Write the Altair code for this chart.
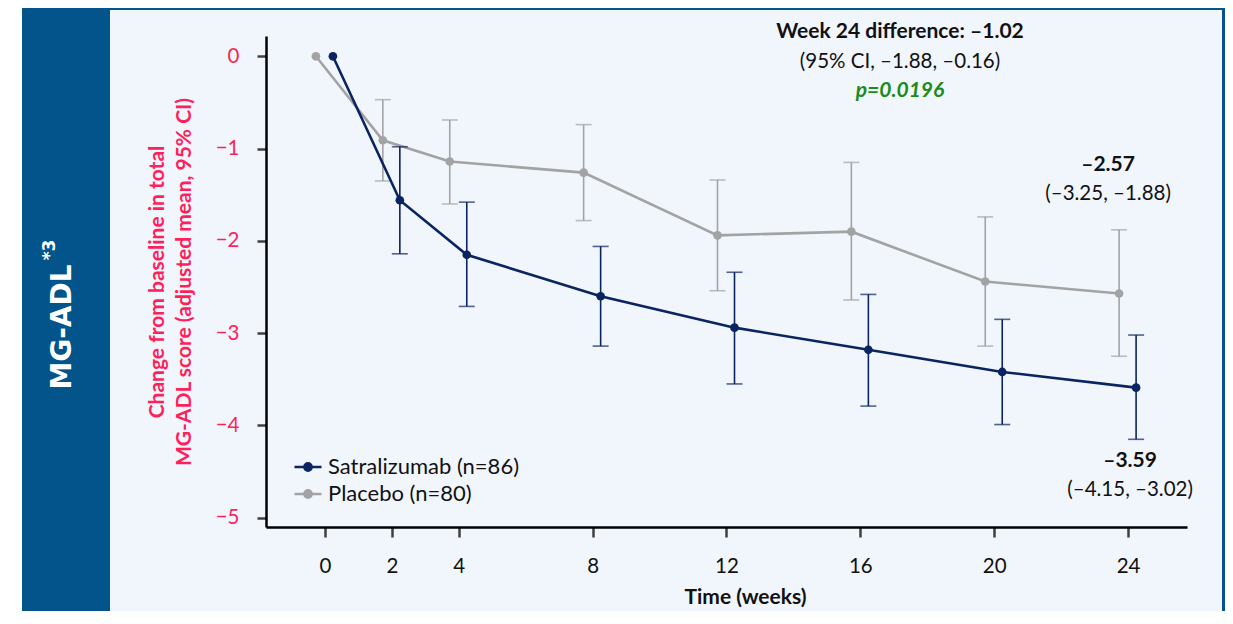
import altair as alt
import pandas as pd

weeks = [0, 2, 4, 8, 12, 16, 20, 24]
series_names = ["Satralizumab (n=86)", "Placebo (n=80)"]
satra_mean = [0, -1.56, -2.15, -2.60, -2.94, -3.18, -3.42, -3.59]
satra_lower = [None, -2.14, -2.71, -3.14, -3.55, -3.79, -3.99, -4.15]
satra_upper = [None, -0.98, -1.58, -2.06, -2.34, -2.58, -2.85, -3.02]
placebo_mean = [0, -0.91, -1.14, -1.26, -1.94, -1.90, -2.44, -2.57]
placebo_lower = [None, -1.35, -1.60, -1.78, -2.54, -2.64, -3.14, -3.25]
placebo_upper = [None, -0.47, -0.69, -0.74, -1.34, -1.15, -1.74, -1.88]

x_ticks = [0, 2, 4, 8, 12, 16, 20, 24]
y_ticks = [-5, -4, -3, -2, -1, 0]

ann_text = ["–2.57", "(–3.25, –1.88)", "–3.59", "(–4.15, –3.02)"]
ann_week = [24, 24, 24, 24]
ann_value = [-1.88, -1.88, -4.15, -4.15]

NAVY = "#0a2361"
GRAY = "#a3a3a3"
PINK = "#ff1f5a"
PANEL = "#02548a"
LIGHT = "#f1f6fd"
FONT = "Lato"
FS = 20.5
FSB = 21

rows = []
for name, m, lo, up in [(series_names[0], satra_mean, satra_lower, satra_upper),
                        (series_names[1], placebo_mean, placebo_lower, placebo_upper)]:
    for w, a, b, c in zip(weeks, m, lo, up):
        rows.append({"series": name, "week": w, "mean": a, "lower": b, "upper": c})
df = pd.DataFrame(rows)
err = df.dropna(subset=["lower"])

xscale = alt.Scale(domain=[-1.76, 25.76], nice=False, zero=False)
yscale = alt.Scale(domain=[-5.1, 0.22], nice=False, zero=False)
xaxis = alt.Axis(values=x_ticks, title="Time (weeks)", grid=False, domainColor="black",
                 domainWidth=2.5, tickColor="#404040", tickWidth=2.5, tickSize=10,
                 labelFont=FONT, labelFontSize=FS, labelColor="#111111", labelPadding=19,
                 titleFont=FONT, titleFontSize=FSB, titleFontWeight="bold", titleColor="#111111",
                 titlePadding=10, titleX=479, zindex=2)
yaxis = alt.Axis(values=y_ticks, title=["Change from baseline in total", "MG-ADL score (adjusted mean, 95% CI)"],
                 grid=False, domainColor="black", domainWidth=2.5, tickColor="#404040",
                 tickWidth=2.5, tickSize=9, labelFont=FONT, labelFontSize=FS, labelColor=PINK,
                 labelPadding=18, titleFont=FONT, titleFontSize=FSB, titleFontWeight="bold",
                 titleColor=PINK, titlePadding=21, titleLineHeight=27, zindex=2)
colscale = alt.Scale(domain=series_names, range=[NAVY, GRAY])
legend = alt.Legend(title=None, orient="none", legendX=27, legendY=416, padding=0,
                    symbolType="M-1,0L1,0M-0.27,0A0.27,0.27,0,1,0,0.27,0A0.27,0.27,0,1,0,-0.27,0Z",
                    symbolSize=729, symbolStrokeWidth=2.5, symbolOpacity=1, labelLimit=400,
                    labelFont=FONT, labelFontSize=22,
                    labelColor="#111111", labelOffset=5, rowPadding=1, zindex=3)

one = pd.DataFrame({"k": [0]})
bg = alt.Chart(one).mark_rect(color=LIGHT).encode(
    x=alt.value(-156), x2=alt.value(959), y=alt.value(-28), y2=alt.value(610))
panel = alt.Chart(one).mark_rect(color=PANEL).encode(
    x=alt.value(-244), x2=alt.value(-156), y=alt.value(-28), y2=alt.value(610))
topb = alt.Chart(one).mark_rect(color=PANEL).encode(
    x=alt.value(-244), x2=alt.value(959), y=alt.value(-28), y2=alt.value(-26))
rightb = alt.Chart(one).mark_rect(color=PANEL).encode(
    x=alt.value(956), x2=alt.value(959), y=alt.value(-28), y2=alt.value(610))
ptitle = alt.Chart(one).mark_text(text="MG-ADL", angle=270, font="DejaVu Sans", fontSize=28,
                                  fontWeight="bold", color="white", align="center", baseline="middle").encode(
    x=alt.value(-203), y=alt.value(291))
psup = alt.Chart(one).mark_text(text="*3", angle=270, font="DejaVu Sans", fontSize=17,
                                fontWeight="bold", color="white", align="center", baseline="middle").encode(
    x=alt.value(-216), y=alt.value(214))

layers = [bg, panel, topb, rightb, ptitle, psup]

for name, off in [(series_names[1], -9), (series_names[0], 8)]:
    d = df[df.series == name]
    e = err[err.series == name]
    X = alt.X("week:Q", scale=xscale, axis=xaxis)
    C = alt.Color("series:N", scale=colscale, legend=legend)
    layers.append(alt.Chart(e).mark_rule(strokeWidth=1.6, xOffset=off).encode(
        x=X, y=alt.Y("lower:Q", scale=yscale, axis=yaxis), y2="upper:Q", color=C))
    for fld in ["lower", "upper"]:
        layers.append(alt.Chart(e).mark_tick(orient="horizontal", size=16, thickness=1.6, xOffset=off).encode(
            x=X, y=alt.Y(f"{fld}:Q", scale=yscale, axis=yaxis), color=C))
    layers.append(alt.Chart(d).mark_line(strokeWidth=2.6, xOffset=off).encode(
        x=X, y=alt.Y("mean:Q", scale=yscale, axis=yaxis), color=C))
    layers.append(alt.Chart(d).mark_point(filled=True, size=75, opacity=1, shape="circle",
                                          xOffset=off).encode(
        x=X, y=alt.Y("mean:Q", scale=yscale, axis=yaxis), color=C))

h1 = alt.Chart(one).mark_text(text="Week 24 difference: –1.02", font=FONT, fontSize=FSB, fontWeight="bold",
                              color="#111111", align="center", baseline="middle").encode(
    x=alt.value(634), y=alt.value(-4))
h2 = alt.Chart(one).mark_text(text="(95% CI, –1.88, –0.16)", font=FONT, fontSize=FS,
                              color="#111111", align="center", baseline="middle").encode(
    x=alt.value(634), y=alt.value(26))
h3 = alt.Chart(one).mark_text(text="p=0.0196", font=FONT, fontSize=FSB, fontWeight="bold", fontStyle="italic",
                              color="#1a8c1a", align="center", baseline="middle").encode(
    x=alt.value(634), y=alt.value(55))
layers += [h1, h2, h3]

ann = pd.DataFrame({"text": ann_text, "week": ann_week, "value": ann_value})
dys = [-65, -36, 22, 51]
dxs = [-20, -20, 2, 2]
for i in range(4):
    a = ann.iloc[[i]]
    layers.append(alt.Chart(a).mark_text(font=FONT, fontSize=FSB if i % 2 == 0 else FS,
                                         fontWeight="bold" if i % 2 == 0 else "normal",
                                         color="#111111", align="center", baseline="middle",
                                         dx=dxs[i], dy=dys[i]).encode(
        x=alt.X("week:Q", scale=xscale, axis=xaxis), y=alt.Y("value:Q", scale=yscale, axis=yaxis), text="text:N"))

chart = alt.layer(*layers).properties(
    width=921, height=491,
    padding={"left": 258, "top": 28, "right": 38, "bottom": 84},
    autosize=alt.AutoSizeParams(type="none"),
    background="white",
).configure_view(stroke=None)

chart.save("out.html", embed_options={"renderer": "svg", "actions": False})
